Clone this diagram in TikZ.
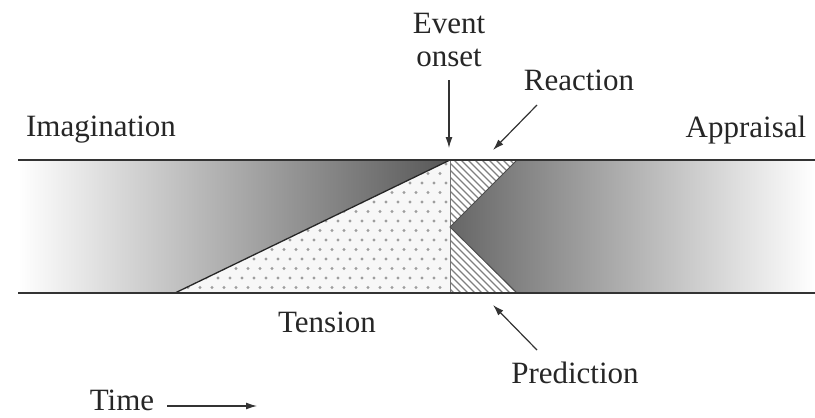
\documentclass[tikz,border=0pt]{standalone}
\usepackage{fontspec}
\setmainfont{Liberation Serif}
\usetikzlibrary{arrows.meta}
\begin{document}
\begin{tikzpicture}[x=1pt,y=-1pt,
  lbl/.style={font=\fontsize{31}{33}\selectfont, inner sep=0pt, text=black!85},
  arr/.style={-{Latex[length=11pt,width=7pt]}, line width=1.2pt, draw=black!80},
  bandedge/.style={line width=1.6pt, draw=black!80}]
\useasboundingbox (0,0) rectangle (815,418);
% left shaded region (imagination)
\shade[left color=white, right color=black!66] (18,160) -- (450,160) -- (175,293) -- (18,293) -- cycle;
% right shaded region (appraisal)
\shade[left color=black!60, right color=white] (517,160) -- (815,160) -- (815,293) -- (517,293) -- (450,227) -- cycle;
% dotted triangle (tension)
\fill[black!3] (175,293) -- (450,160) -- (450,293) -- cycle;
\begin{scope}
  \clip (175,293) -- (450,160) -- (450,293) -- cycle;
  \foreach \j in {0,...,14} {
    \foreach \i in {0,...,25} {
      \fill[black!38] ({170+\i*12+mod(\j,2)*6}, {164+\j*9.5}) circle (1.7);
    }
  }
\end{scope}
% hatched region (reaction / prediction)
\fill[white] (450,160) -- (517,160) -- (450,227) -- (517,293) -- (450,293) -- cycle;
\begin{scope}
  \clip (450,160) -- (517,160) -- (450,227) -- (517,293) -- (450,293) -- cycle;
  \foreach \k in {-19,...,13} {
    \draw[black!50, line width=1.2pt] ({430+\k*7},150) -- ++(160,160);
  }
\end{scope}
% edges
\draw[line width=1.3pt, black!85] (175,293) -- (450,160);
\draw[black!55, line width=0.8pt] (450,160) -- (450,293);
\draw[black!70, line width=1pt] (517,160) -- (450,227) -- (517,293);
\draw[bandedge] (18,160) -- (815,160);
\draw[bandedge] (18,293) -- (815,293);
% labels
\node[lbl] (imag) at (101,130) {Imagination};
\node[lbl] (appr) at (746,130) {Appraisal};
\node[lbl, align=center] (event) at (449,40) {Event\\onset};
\node[lbl] (react) at (579,80) {Reaction};
\node[lbl] (tens) at (327,322) {Tension};
\node[lbl] (pred) at (575,373) {Prediction};
\node[lbl] (time) at (122,400) {Time};
% arrows
\coordinate (evS) at (449,80);
\coordinate (evE) at (449,148);
\coordinate (reS) at (537,105);
\coordinate (reE) at (493,150);
\coordinate (prS) at (537,350);
\coordinate (prE) at (493,305);
\coordinate (tmS) at (167,406);
\coordinate (tmE) at (257,406);
\draw[arr] (evS) -- (evE);
\draw[arr] (reS) -- (reE);
\draw[arr] (prS) -- (prE);
\draw[arr] (tmS) -- (tmE);
\end{tikzpicture}
\end{document}
